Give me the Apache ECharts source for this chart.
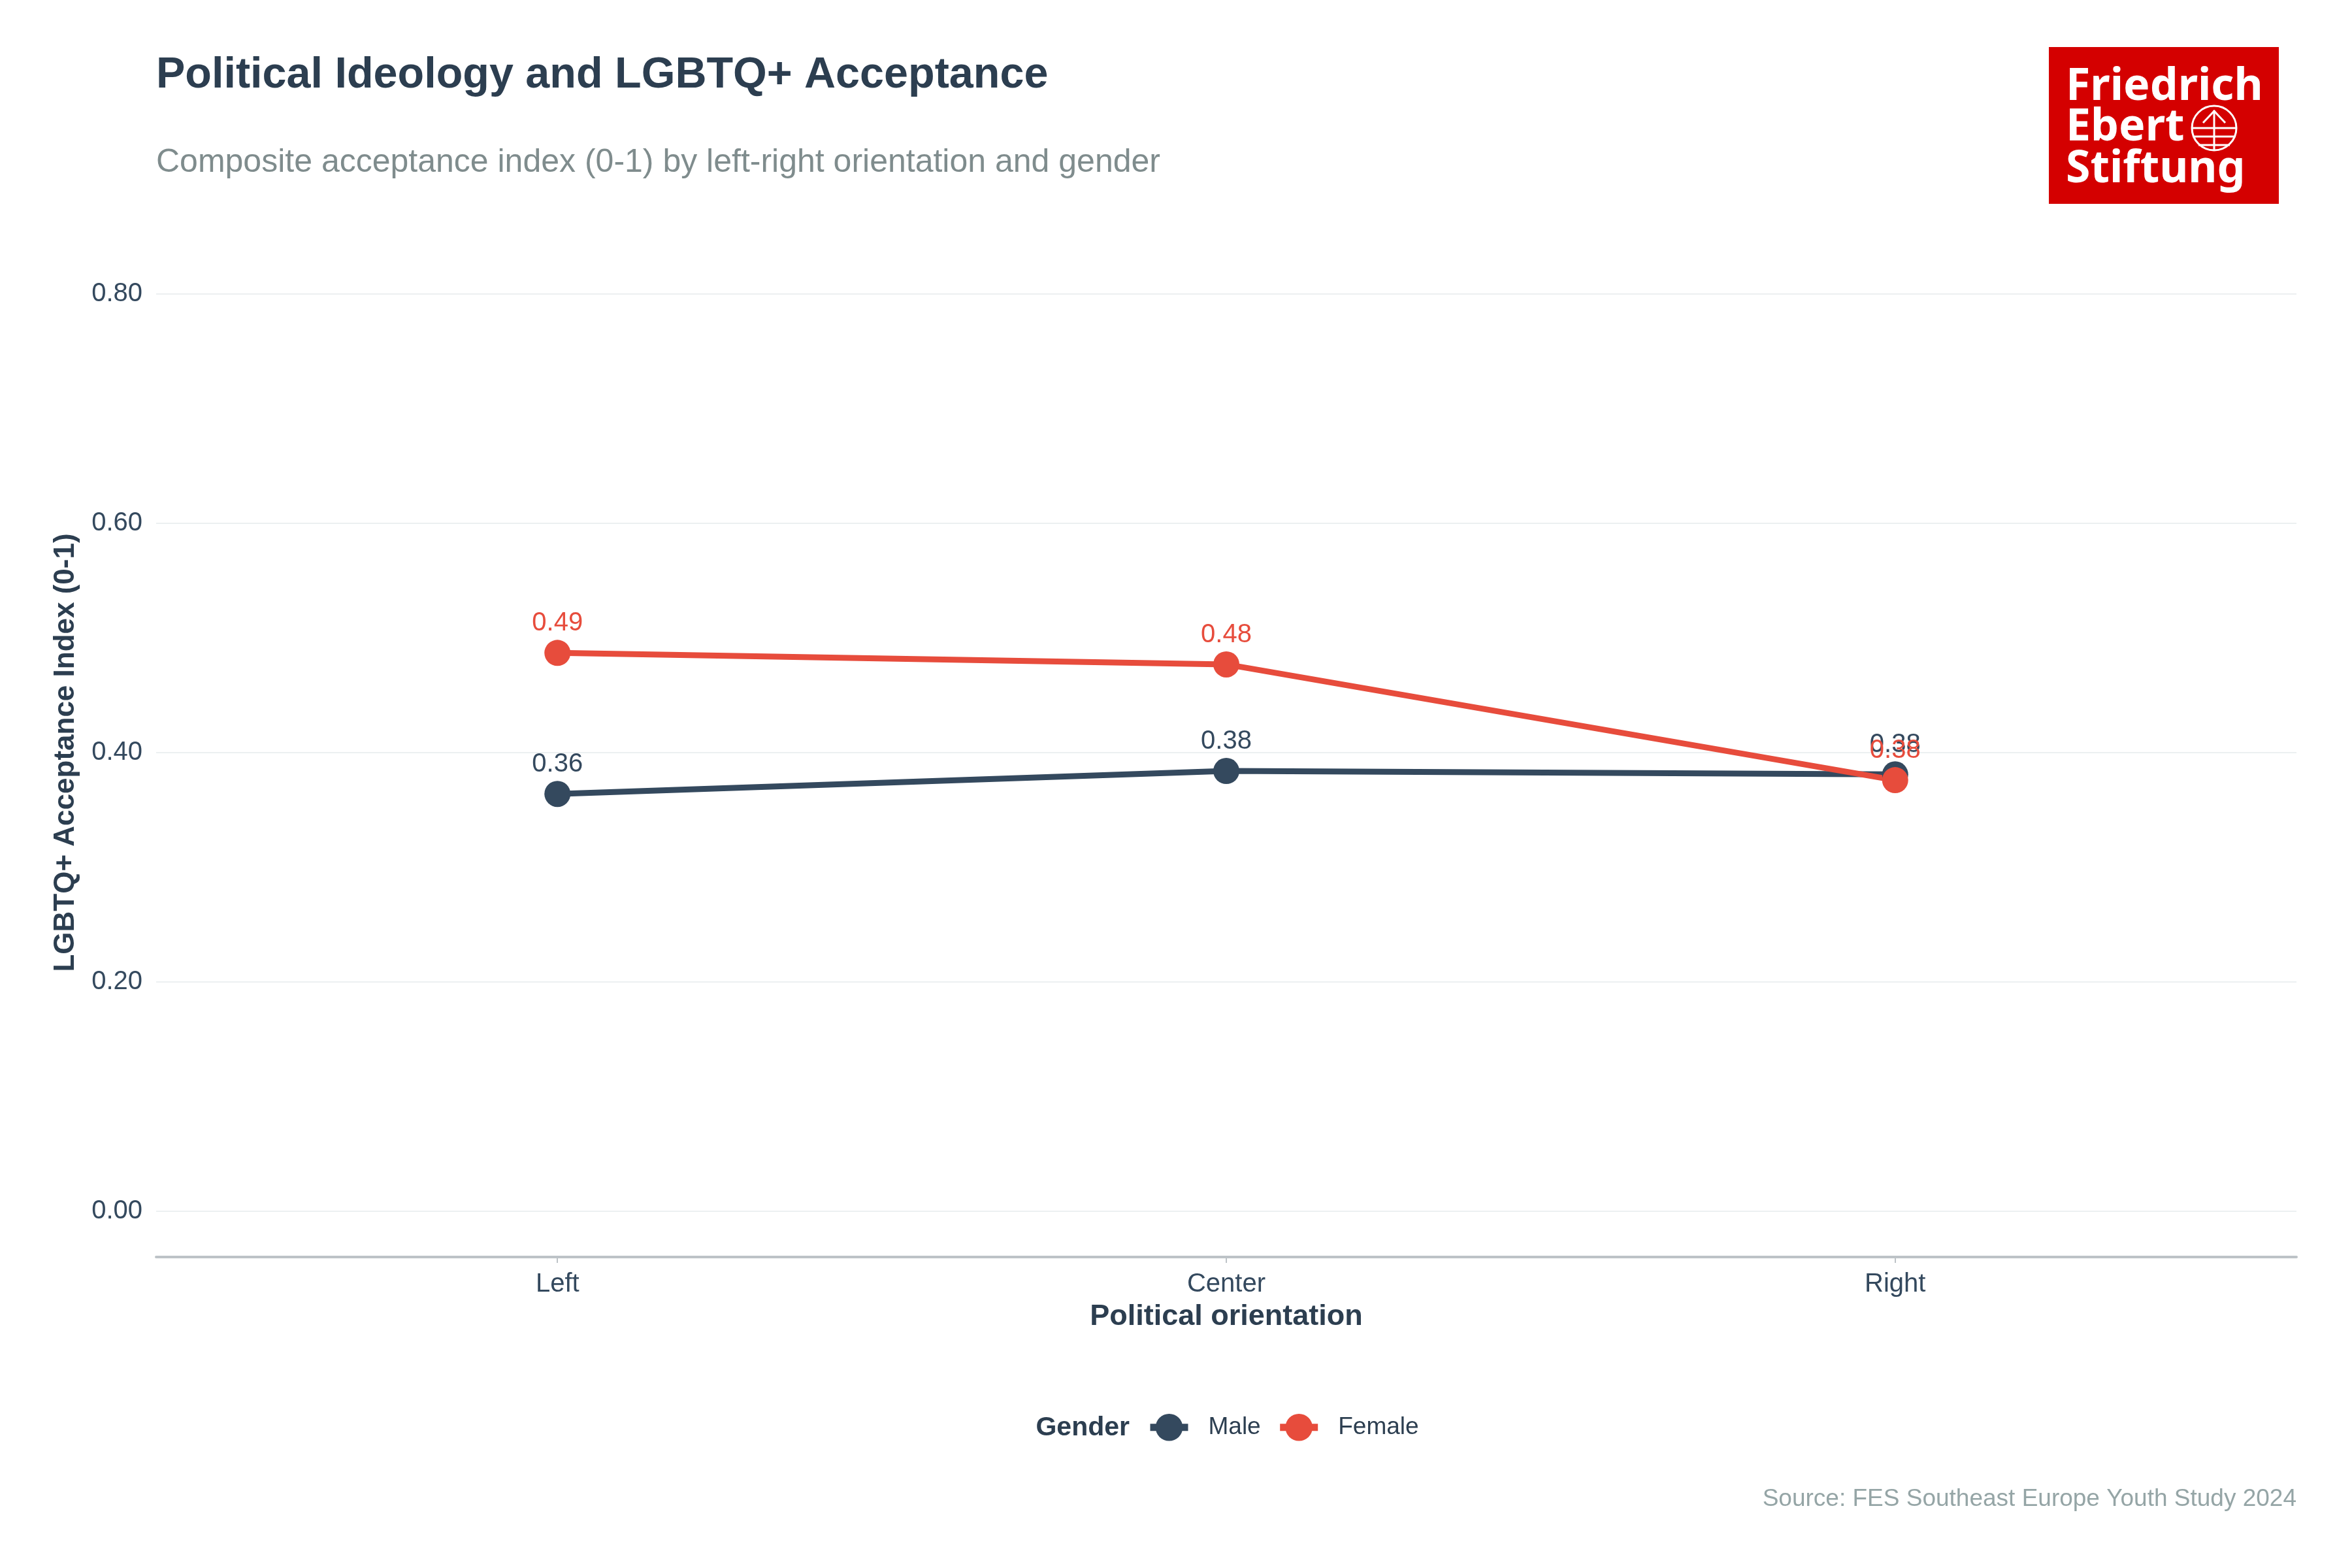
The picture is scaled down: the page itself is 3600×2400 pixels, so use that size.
<!DOCTYPE html>
<html>
<head>
<meta charset="utf-8">
<title>Political Ideology and LGBTQ+ Acceptance</title>
<script src="https://cdn.jsdelivr.net/npm/echarts@6/dist/echarts.min.js"></script>
<style>
    html, body { margin: 0; padding: 0; background: #ffffff; }
    #chart { width: 3600px; height: 2400px; }
</style>
</head>
<body>
<div id="chart"></div>
<script>
// data
var categories = ['Left', 'Center', 'Right'];
var maleValues = [0.364, 0.384, 0.381];
var femaleValues = [0.487, 0.477, 0.376];
var yTicks = [0, 0.2, 0.4, 0.6, 0.8];
var seriesNames = ['Male', 'Female'];

var colors = {
    male: '#34495e',
    female: '#e74c3c',
    title: '#2c3e50',
    subtitle: '#7f8c8d',
    source: '#95a5a6',
    grid: '#ecf0f1',
    axis: '#bdc3c7',
    logo: '#d40000'
};
var font = '"Liberation Sans", Arial, Helvetica, sans-serif';
var logoFont = 'bold 68px "Noto Sans", "Open Sans", sans-serif';

function toPoints(values) {
    return values.map(function (v, i) {
        return [i, v];
    });
}

function makeSeries(name, values, color) {
    return {
        name: name,
        type: 'line',
        data: toPoints(values),
        symbol: 'circle',
        symbolSize: 40,
        lineStyle: { color: color, width: 9 },
        itemStyle: { color: color },
        label: {
            show: true,
            position: 'top',
            distance: 5,
            color: color,
            fontFamily: font,
            fontSize: 40,
            formatter: function (p) {
                return p.value[1].toFixed(2);
            }
        },
        emphasis: { disabled: true }
    };
}

var myChart = echarts.init(document.getElementById('chart'));

var option = {
    backgroundColor: '#ffffff',
    animation: false,
    title: [{
        text: 'Political Ideology and LGBTQ+ Acceptance',
        left: 239,
        top: 82,
        padding: 0,
        textStyle: { color: colors.title, fontFamily: font, fontWeight: 'bold', fontSize: 66.5 }
    }, {
        text: 'Composite acceptance index (0-1) by left-right orientation and gender',
        left: 239,
        top: 224,
        padding: 0,
        textStyle: { color: colors.subtitle, fontFamily: font, fontWeight: 'normal', fontSize: 50 }
    }, {
        text: 'Source: FES Southeast Europe Youth Study 2024',
        right: 85,
        top: 2276,
        padding: 0,
        textStyle: { color: colors.source, fontFamily: font, fontWeight: 'normal', fontSize: 37 }
    }],
    grid: {
        left: 239,
        right: 85,
        top: 380,
        bottom: 476
    },
    legend: {
        data: seriesNames,
        left: 1755,
        top: 2164,
        padding: 0,
        itemWidth: 58,
        itemHeight: 52,
        itemGap: 24,
        selectedMode: false,
        lineStyle: { width: 11 },
        textStyle: {
            color: colors.title,
            fontFamily: font,
            fontSize: 37,
            padding: [0, 0, 0, 26]
        }
    },
    xAxis: {
        type: 'value',
        min: -0.6,
        max: 2.6,
        name: 'Political orientation',
        nameLocation: 'middle',
        nameGap: 69,
        nameTextStyle: { color: colors.title, fontFamily: font, fontWeight: 'bold', fontSize: 45 },
        axisLine: { show: true, onZero: false, lineStyle: { color: colors.axis, width: 4 } },
        axisTick: { show: true, length: 9, customValues: [0, 1, 2], lineStyle: { color: colors.axis, width: 2 } },
        axisLabel: {
            customValues: [0, 1, 2],
            margin: 22,
            color: colors.male,
            fontFamily: font,
            fontSize: 40,
            formatter: function (v) {
                return categories[Math.round(v)];
            }
        },
        splitLine: { show: false }
    },
    yAxis: {
        type: 'value',
        min: -0.04,
        max: 0.84,
        name: 'LGBTQ+ Acceptance Index (0-1)',
        nameLocation: 'middle',
        nameGap: 116,
        nameTextStyle: { color: colors.title, fontFamily: font, fontWeight: 'bold', fontSize: 44 },
        axisLine: { show: false },
        axisTick: { show: false, customValues: yTicks },
        axisLabel: {
            customValues: yTicks,
            margin: 21,
            color: colors.male,
            fontFamily: font,
            fontSize: 40,
            formatter: function (v) {
                return v.toFixed(2);
            }
        },
        splitLine: { show: true, lineStyle: { color: colors.grid, width: 2 } }
    },
    series: [
        makeSeries(seriesNames[0], maleValues, colors.male),
        makeSeries(seriesNames[1], femaleValues, colors.female)
    ],
    graphic: [
        // legend title
        {
            type: 'text',
            right: 3600 - 1729,
            top: 2165,
            style: { text: 'Gender', fill: colors.title, font: 'bold 41px ' + font }
        },
        // logo
        {
            type: 'group',
            left: 3136,
            top: 72,
            children: [
                { type: 'rect', shape: { x: 0, y: 0, width: 352, height: 240 }, style: { fill: colors.logo } },
                { type: 'text', x: 26, y: 96, style: { text: 'Friedrich', fill: '#ffffff', font: logoFont, textVerticalAlign: 'bottom' } },
                { type: 'text', x: 26, y: 158, style: { text: 'Ebert', fill: '#ffffff', font: logoFont, textVerticalAlign: 'bottom' } },
                { type: 'text', x: 26, y: 222, style: { text: 'Stiftung', fill: '#ffffff', font: logoFont, textVerticalAlign: 'bottom' } },
                { type: 'circle', shape: { cx: 253, cy: 124, r: 34 }, style: { fill: 'none', stroke: '#ffffff', lineWidth: 3 } },
                { type: 'line', shape: { x1: 219, y1: 124, x2: 287, y2: 124 }, style: { stroke: '#ffffff', lineWidth: 3 } },
                { type: 'line', shape: { x1: 222, y1: 137, x2: 284, y2: 137 }, style: { stroke: '#ffffff', lineWidth: 3 } },
                { type: 'line', shape: { x1: 229, y1: 150, x2: 277, y2: 150 }, style: { stroke: '#ffffff', lineWidth: 3 } },
                { type: 'line', shape: { x1: 253, y1: 97, x2: 253, y2: 157 }, style: { stroke: '#ffffff', lineWidth: 3 } },
                { type: 'polyline', shape: { points: [[236, 116], [253, 98], [270, 116]] }, style: { fill: 'none', stroke: '#ffffff', lineWidth: 3 } }
            ]
        }
    ]
};

myChart.setOption(option);

window.addEventListener('resize', function () {
    myChart.resize();
});
</script>
</body>
</html>
